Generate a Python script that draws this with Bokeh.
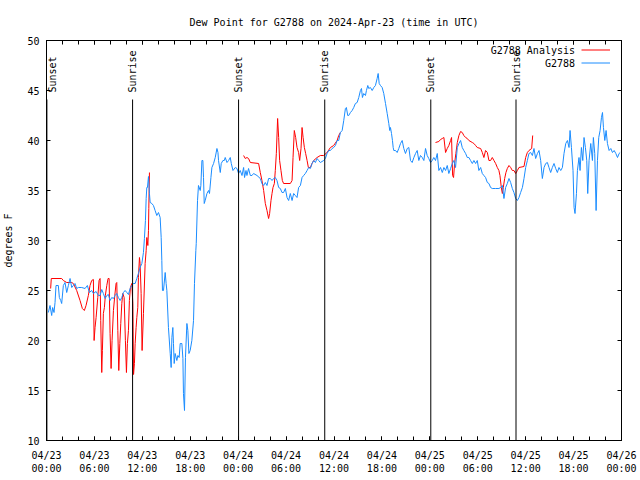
import math
from bokeh.plotting import figure
from bokeh.models import FixedTicker, LinearAxis, Label, CustomJSTickFormatter
from bokeh.embed import file_html
from bokeh.resources import INLINE

FONT = "DejaVu Sans Mono"
RED = "#ff0000"
BLUE = "#1a8cff"
NAN = float("nan")

title_text = "Dew Point for G2788 on 2024-Apr-23 (time in UTC)"
y_label = "degrees F"
series_names = ["G2788 Analysis", "G2788"]

# x in hours since 2024-04-23 00:00 UTC
tick_hours = [0, 6, 12, 18, 24, 30, 36, 42, 48, 54, 60, 66, 72]
tick_labels = ["04/23\n00:00", "04/23\n06:00", "04/23\n12:00", "04/23\n18:00",
               "04/24\n00:00", "04/24\n06:00", "04/24\n12:00", "04/24\n18:00",
               "04/25\n00:00", "04/25\n06:00", "04/25\n12:00", "04/25\n18:00",
               "04/26\n00:00"]
y_ticks = [10, 15, 20, 25, 30, 35, 40, 45, 50]

sun_hours = [0.05, 10.78, 24.05, 34.84, 48.12, 58.79]
sun_names = ["Sunset", "Sunrise", "Sunset", "Sunrise", "Sunset", "Sunrise"]

# G2788 Analysis (red); NaN marks gaps
analysis_points = [
    (0.52, 25.2), (0.6, 26.2), (1.9, 26.2), (2.11, 26.0), (2.53, 25.8), (3.16, 25.8), (3.36, 25.7),
    (3.78, 25.0), (4.2, 24.0), (4.49, 23.2), (4.74, 23.0), (4.95, 23.5), (5.24, 24.5), (5.45, 25.5),
    (5.66, 26.0), (5.87, 26.1), (5.96, 20.0), (6.08, 21.3), (6.21, 22.3), (6.42, 24.3), (6.58, 26.0),
    (6.71, 26.2), (6.79, 22.0), (6.92, 16.8), (7.0, 19.0), (7.12, 22.7), (7.25, 23.3), (7.37, 24.5),
    (7.55, 25.5), (7.71, 26.2), (7.84, 26.2), (7.96, 20.7), (8.09, 17.2), (8.21, 20.0), (8.38, 23.0),
    (8.55, 24.5), (8.71, 25.7), (8.8, 25.8), (8.93, 21.0), (9.05, 17.0), (9.18, 19.7), (9.3, 21.7),
    (9.43, 23.7), (9.55, 24.7), (9.72, 24.3), (9.88, 20.0), (10.01, 16.8), (10.13, 19.7), (10.26, 21.0),
    (10.38, 24.0), (10.51, 25.3), (10.68, 25.7), (10.81, 23.7), (10.9, 16.6), (11.01, 17.7), (11.1, 19.7),
    (11.22, 21.3), (11.31, 22.3), (11.43, 23.3), (11.51, 26.3), (11.64, 28.3), (11.72, 27.7), (11.85, 24.7),
    (11.97, 19.0), (12.14, 22.7), (12.35, 27.7), (12.48, 29.0), (12.56, 30.3), (12.69, 29.5), (12.77, 31.0),
    (12.81, 33.2), (12.89, 36.8),
    (NAN, NAN),
    (24.68, 38.5), (24.89, 38.2), (25.1, 38.3), (25.3, 38.2), (25.52, 37.8), (26.56, 37.7), (26.77, 36.8),
    (26.98, 36.0), (27.19, 35.0), (27.4, 33.7), (27.61, 33.0), (27.81, 32.2), (27.94, 32.7), (28.11, 34.0),
    (28.24, 34.7), (28.36, 35.3), (28.53, 35.7), (28.65, 37.0), (28.78, 38.7), (28.94, 42.2), (29.07, 40.3),
    (29.19, 38.0), (29.36, 37.0), (29.53, 36.0), (29.69, 35.7), (30.53, 35.7), (30.75, 36.0), (30.87, 38.3),
    (31.03, 41.0), (31.2, 40.3), (31.37, 39.3), (31.57, 38.8), (31.7, 38.0), (31.87, 39.2), (32.0, 41.3),
    (32.13, 40.3), (32.29, 39.3), (32.45, 38.7), (32.63, 38.0), (32.79, 37.3), (33.04, 37.3), (33.25, 37.7),
    (33.46, 38.0), (33.88, 38.3), (34.29, 38.5), (34.71, 38.5), (35.13, 38.8), (35.55, 39.3), (35.96, 39.5),
    (36.39, 40.0), (36.59, 40.5), (36.8, 40.8),
    (NAN, NAN),
    (48.71, 39.8), (49.13, 39.9), (49.34, 40.1), (49.56, 40.2), (49.76, 40.3), (49.97, 38.8), (50.18, 39.2),
    (50.38, 39.5), (50.6, 40.0), (50.72, 40.3), (50.85, 36.5), (50.97, 36.3), (51.1, 37.7), (51.26, 38.7),
    (51.44, 39.8), (51.64, 40.5), (51.85, 40.9), (52.06, 40.8), (52.26, 40.5), (52.48, 40.3), (52.69, 40.2),
    (52.89, 40.0), (53.32, 39.8), (53.52, 39.7), (53.73, 39.5), (53.94, 39.3), (54.36, 39.2), (54.57, 38.8),
    (54.77, 38.3), (54.98, 39.0), (55.2, 38.8), (55.4, 38.0), (55.61, 38.0), (55.82, 38.3), (56.03, 38.0),
    (56.24, 37.7), (56.45, 37.3), (56.65, 37.0), (56.78, 36.5), (56.95, 35.3), (57.08, 34.7), (57.2, 35.3),
    (57.37, 36.2), (57.53, 36.8), (57.7, 37.2), (57.91, 37.5), (58.12, 37.3), (58.33, 37.0), (58.53, 37.0),
    (58.75, 36.7), (58.96, 37.0), (59.16, 37.3), (59.79, 37.4), (60.0, 38.3), (60.21, 38.8), (60.41, 39.0),
    (60.75, 39.2), (60.88, 40.5),
]

# G2788 observations (blue)
obs_points = [
    (0.23, 22.8), (0.44, 23.5), (0.65, 22.5), (0.77, 23.3), (0.94, 22.8), (1.07, 23.8), (1.19, 25.5),
    (1.48, 25.5), (1.61, 24.3), (1.78, 24.0), (1.9, 23.7), (2.11, 25.5), (2.32, 25.8), (2.53, 24.8),
    (2.74, 25.5), (2.95, 26.2), (3.16, 25.3), (3.36, 25.5), (3.57, 25.7), (3.78, 25.2), (3.99, 25.3),
    (4.41, 25.3), (4.83, 25.2), (5.12, 25.5), (5.37, 24.8), (5.66, 25.0), (5.87, 24.7), (6.21, 24.9),
    (6.5, 24.5), (6.71, 24.5), (6.92, 25.1), (7.12, 24.7), (7.34, 24.2), (7.55, 24.5), (7.75, 24.6),
    (7.96, 24.0), (8.17, 24.3), (8.38, 24.2), (8.59, 24.5), (8.8, 24.7), (9.0, 24.3), (9.22, 24.0),
    (9.43, 24.3), (9.63, 24.8), (9.84, 25.0), (10.06, 24.8), (10.26, 24.6), (10.47, 25.2), (10.68, 25.5),
    (10.88, 25.7), (11.1, 25.7), (11.31, 26.2), (11.51, 26.7), (11.72, 27.3), (11.94, 27.7), (12.14, 28.8),
    (12.26, 30.2), (12.39, 32.0), (12.48, 34.2), (12.56, 35.3), (12.64, 35.3), (12.77, 36.4), (12.89, 34.7),
    (12.98, 33.8), (13.19, 33.7), (13.39, 33.5), (13.6, 33.0), (13.81, 32.5), (14.02, 32.8), (14.23, 32.3),
    (14.36, 30.3), (14.44, 28.0), (14.52, 25.0), (14.65, 25.0), (14.86, 26.8), (14.98, 25.7), (15.07, 25.0),
    (15.27, 21.3), (15.49, 18.7), (15.61, 17.3), (15.7, 20.3), (15.82, 21.3), (15.9, 19.7), (15.99, 17.7),
    (16.11, 18.7), (16.32, 18.0), (16.45, 18.5), (16.61, 18.3), (16.74, 19.7), (16.95, 19.7), (17.08, 18.2),
    (17.15, 14.7), (17.28, 13.0), (17.4, 18.3), (17.58, 21.7), (17.7, 21.0), (17.83, 18.7), (17.99, 19.0),
    (18.2, 20.0), (18.41, 22.0), (18.53, 25.7), (18.7, 29.0), (18.75, 29.7), (18.91, 34.0), (19.03, 35.5),
    (19.25, 35.0), (19.33, 35.5), (19.46, 38.0), (19.58, 38.0), (19.66, 36.3), (19.75, 33.7), (19.87, 34.0),
    (20.09, 34.7), (20.29, 35.0), (20.41, 34.7), (20.59, 36.3), (20.71, 37.3), (20.92, 37.7), (21.13, 38.3),
    (21.34, 39.2), (21.47, 38.8), (21.54, 38.0), (21.76, 36.8), (21.88, 37.7), (22.09, 38.0), (22.26, 38.0),
    (22.38, 38.3), (22.6, 37.8), (22.8, 38.0), (23.01, 38.3), (23.14, 37.7), (23.35, 37.0), (23.64, 37.3),
    (23.85, 37.2), (24.05, 36.7), (24.26, 37.0), (24.48, 36.5), (24.68, 37.3), (24.8, 36.3), (24.98, 37.0),
    (25.1, 36.5), (25.3, 37.2), (25.52, 36.5), (25.73, 36.5), (25.93, 36.7), (26.36, 36.5), (26.77, 36.2),
    (26.98, 35.7), (27.19, 35.5), (27.4, 35.8), (27.61, 35.5), (27.81, 36.2), (28.03, 36.2), (28.24, 36.0),
    (28.44, 36.2), (28.65, 36.3), (28.86, 36.0), (29.07, 35.3), (29.28, 35.2), (29.49, 34.8), (29.69, 34.8),
    (29.91, 35.2), (30.12, 34.3), (30.32, 34.0), (30.53, 34.7), (30.75, 34.0), (30.95, 34.7), (31.16, 34.5),
    (31.37, 34.3), (31.57, 35.3), (31.79, 35.5), (32.0, 36.3), (32.2, 36.5), (32.41, 36.7), (32.63, 37.0),
    (32.83, 37.3), (33.04, 37.2), (33.25, 37.7), (33.46, 38.0), (33.67, 37.8), (33.88, 38.2), (34.08, 38.0),
    (34.29, 37.8), (34.71, 38.0), (34.92, 38.2), (35.13, 38.7), (35.34, 39.0), (35.55, 39.0), (35.76, 39.2),
    (35.96, 39.3), (36.18, 39.5), (36.39, 40.0), (36.59, 40.0), (36.8, 40.8), (37.02, 41.0), (37.22, 42.0),
    (37.43, 43.2), (37.55, 43.3), (37.72, 42.5), (37.84, 42.5), (38.06, 42.8), (38.27, 43.0), (38.47, 43.3),
    (38.68, 43.7), (38.9, 43.8), (39.1, 44.3), (39.31, 45.0), (39.44, 45.2), (39.56, 44.3), (39.72, 44.7),
    (39.94, 44.5), (40.06, 45.0), (40.23, 45.5), (40.35, 45.2), (40.56, 45.3), (40.78, 45.0), (40.98, 45.3),
    (41.19, 45.5), (41.4, 46.2), (41.53, 46.7), (41.66, 45.7), (41.82, 45.5), (42.03, 45.3), (42.23, 44.7),
    (42.45, 43.7), (42.66, 42.7), (42.86, 41.7), (42.98, 41.0), (43.07, 41.3), (43.2, 40.7), (43.32, 40.0),
    (43.41, 39.3), (43.49, 39.0), (43.7, 39.0), (43.91, 38.8), (44.11, 39.2), (44.33, 39.7), (44.54, 40.0),
    (44.74, 39.2), (44.95, 38.7), (45.17, 39.2), (45.37, 39.3), (45.58, 38.0), (45.79, 37.8), (46.0, 38.3),
    (46.21, 38.7), (46.42, 39.0), (46.62, 38.0), (46.83, 38.5), (47.05, 38.3), (47.25, 38.0), (47.46, 39.2),
    (47.67, 38.5), (47.87, 38.2), (48.09, 37.8), (48.3, 38.0), (48.5, 38.3), (48.71, 38.0), (48.93, 38.7),
    (49.13, 37.0), (49.34, 37.3), (49.56, 36.8), (49.76, 37.3), (49.97, 37.0), (50.18, 37.5), (50.38, 36.7),
    (50.6, 37.2), (50.81, 37.7), (51.01, 38.0), (51.22, 37.3), (51.44, 39.3), (51.64, 39.7), (51.85, 40.0),
    (52.06, 39.3), (52.26, 39.0), (52.48, 38.7), (52.69, 38.3), (52.89, 38.3), (53.1, 38.0), (53.32, 37.7),
    (53.52, 38.0), (53.73, 37.7), (53.94, 38.0), (54.14, 37.0), (54.36, 37.3), (54.57, 36.7), (54.77, 36.5),
    (54.98, 36.3), (55.2, 35.8), (55.4, 35.7), (55.61, 35.3), (55.82, 35.2), (56.24, 35.2), (56.65, 35.2),
    (56.87, 35.3), (57.08, 35.5), (57.28, 34.2), (57.49, 35.3), (57.7, 35.7), (57.91, 36.2), (58.12, 35.8),
    (58.33, 35.2), (58.53, 34.8), (58.75, 34.2), (58.96, 34.0), (59.16, 34.3), (59.37, 34.8), (59.59, 35.3),
    (59.79, 36.2), (60.0, 37.3), (60.21, 38.0), (60.41, 38.7), (60.63, 38.8), (60.84, 38.5), (61.04, 39.2),
    (61.25, 38.2), (61.47, 38.7), (61.67, 39.0), (61.88, 38.0), (62.09, 36.2), (62.3, 37.3), (62.51, 37.7),
    (62.72, 37.8), (62.92, 37.3), (63.13, 36.8), (63.34, 37.3), (63.55, 37.7), (63.76, 37.2), (63.97, 36.8),
    (64.17, 37.3), (64.39, 37.0), (64.6, 37.3), (64.8, 38.7), (65.02, 39.7), (65.23, 40.0), (65.43, 39.3),
    (65.56, 41.0), (65.73, 39.3), (65.93, 37.0), (66.06, 33.3), (66.18, 32.7), (66.36, 34.7), (66.48, 37.0),
    (66.68, 38.3), (66.81, 37.0), (66.98, 39.3), (67.15, 38.0), (67.31, 40.3), (67.48, 39.3), (67.65, 38.0),
    (67.77, 34.7), (67.94, 38.0), (68.15, 39.7), (68.36, 38.0), (68.48, 40.3), (68.65, 38.7), (68.82, 33.0),
    (68.99, 38.0), (69.15, 40.3), (69.32, 41.0), (69.49, 42.3), (69.62, 42.8), (69.74, 41.3), (69.91, 40.0),
    (70.07, 41.0), (70.24, 39.7), (70.45, 39.0), (70.66, 39.2), (70.87, 38.8), (71.08, 39.0), (71.29, 38.7),
    (71.5, 38.3), (71.7, 38.7), (71.83, 38.8),
]

X0, X1 = 0, 72
Y0, Y1 = 10, 50
FW, FH = 575, 400

p = figure(frame_width=FW, frame_height=FH, x_range=(X0, X1), y_range=(Y0, Y1),
           output_backend="svg", toolbar_location=None,
           min_border_left=39, min_border_right=18, min_border_top=40, min_border_bottom=38)
p.background_fill_color = "white"
p.border_fill_color = "white"
p.outline_line_color = "black"
p.outline_line_alpha = 1.0
p.grid.visible = False

p.title.text = title_text
p.title.text_font = FONT
p.title.text_font_size = "10px"
p.title.text_font_style = "normal"
p.title.align = "center"
p.title.text_color = "black"
p.title.standoff = 26

hpp = (X1 - X0) / FW   # hours per pixel
vpp = (Y1 - Y0) / FH   # degrees per pixel
minor_hours = list(range(0, 73, 2))


def style_axis(ax):
    ax.axis_line_color = "black"
    ax.major_tick_in = 4
    ax.major_tick_out = 0
    ax.minor_tick_in = 4
    ax.minor_tick_out = 0
    ax.major_tick_line_color = "black"
    ax.minor_tick_line_color = "black"
    ax.major_label_text_font = FONT
    ax.major_label_text_font_size = "10px"
    ax.major_label_text_color = "black"
    ax.axis_label_text_font = FONT
    ax.axis_label_text_font_size = "10px"
    ax.axis_label_text_font_style = "normal"
    ax.axis_label_text_color = "black"


xa = p.xaxis[0]
xa.ticker = FixedTicker(ticks=tick_hours, minor_ticks=minor_hours)
xa.major_label_overrides = {t: lab for t, lab in zip(tick_hours, tick_labels)}
style_axis(xa)
xa.major_label_standoff = 9

ya = p.yaxis[0]
ya.ticker = FixedTicker(ticks=y_ticks)
style_axis(ya)
ya.minor_tick_line_color = None
ya.major_label_standoff = 7
ya.axis_label = y_label
ya.axis_label_standoff = 10

blank = CustomJSTickFormatter(code="return ''")
top = LinearAxis(ticker=FixedTicker(ticks=tick_hours, minor_ticks=minor_hours), formatter=blank)
style_axis(top)
top.major_label_text_font_size = "0px"
top.major_label_standoff = 0
p.add_layout(top, "above")

right = LinearAxis(ticker=FixedTicker(ticks=y_ticks), formatter=blank)
style_axis(right)
right.minor_tick_line_color = None
right.major_label_text_font_size = "0px"
right.major_label_standoff = 0
p.add_layout(right, "right")

# series
p.line([a for a, b in analysis_points], [b for a, b in analysis_points], line_color=RED, line_width=1)
p.line([a for a, b in obs_points], [b for a, b in obs_points], line_color=BLUE, line_width=1)

# sunrise / sunset markers
line_top = Y1 - 59 * vpp
text_start = Y1 - 52 * vpp
p.segment(x0=sun_hours, y0=[Y0] * len(sun_hours), x1=sun_hours, y1=[line_top] * len(sun_hours),
          line_color="black", line_width=1)
for h, name in zip(sun_hours, sun_names):
    # keep the label inside the frame (labels are clipped at the frame edge)
    lx = max(h, X0 + 5.5 * hpp)
    p.add_layout(Label(x=lx, y=text_start, text=name, angle=math.pi / 2, text_align="left",
                       text_baseline="middle", text_font=FONT, text_font_size="10px",
                       text_color="black", level="overlay"))

# legend (gnuplot style: text then sample line)
leg_text_x = X1 - 46.5 * hpp
leg_l0 = X1 - 40 * hpp
leg_l1 = X1 - 11.5 * hpp
for i, (name, col) in enumerate(zip(series_names, [RED, BLUE])):
    yy = Y1 - (9.5 + 13 * i) * vpp
    p.add_layout(Label(x=leg_text_x, y=yy, text=name, text_align="right", text_baseline="middle",
                       text_font=FONT, text_font_size="10px", text_color="black"))
    p.segment(x0=[leg_l0], y0=[yy], x1=[leg_l1], y1=[yy], line_color=col, line_width=1)

open("out.html", "w").write(file_html(p, INLINE))
